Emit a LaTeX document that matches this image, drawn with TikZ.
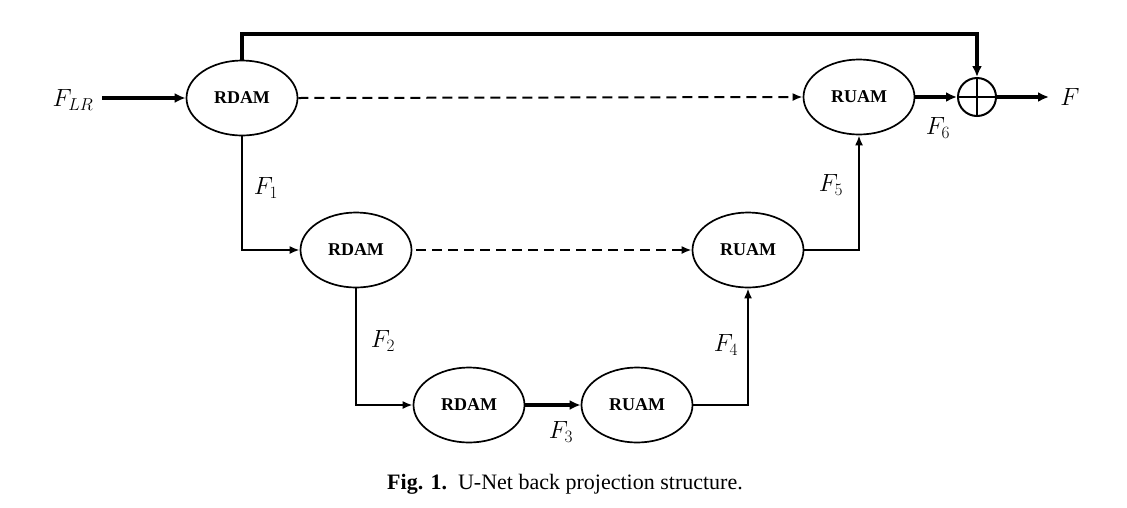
\documentclass[tikz,border=0pt]{standalone}
\usepackage{fontspec}
\setmainfont{Liberation Serif}
\usetikzlibrary{arrows.meta,shapes.geometric}
\begin{document}
\begin{tikzpicture}[x=1pt,y=-1pt,
  blk/.style={draw,line width=1.7pt,ellipse,minimum width=111pt,minimum height=75pt,inner sep=0pt,font=\fontsize{18}{18}\selectfont\bfseries},
  thin/.style={line width=2pt,-{Latex[length=10pt,width=8pt]}},
  thick/.style={line width=3.4pt,-{Latex[length=11pt,width=10pt]}},
  dsh/.style={line width=2pt,dash pattern=on 10pt off 6pt,-{Latex[length=10pt,width=8pt]}},
  lbl/.style={font=\fontsize{25}{25}\selectfont}]
\useasboundingbox (0,0) rectangle (1127,507);
\node[blk] (d1) at (242,98) {RDAM};
\node[blk] (u1) at (859,97) {RUAM};
\node[blk] (d2) at (356,250) {RDAM};
\node[blk] (u2) at (748,250) {RUAM};
\node[blk] (d3) at (469,405) {RDAM};
\node[blk] (u3) at (637,405) {RUAM};
\node[draw,circle,line width=2pt,minimum size=38pt,inner sep=0pt] (s) at (977,97) {};
\draw[line width=2pt] (s.north) -- (s.south) (s.west) -- (s.east);
\coordinate (in) at (102,98);
\coordinate (out) at (1049,97);
\node[lbl] (flr) at (73,100) {$F_{LR}$};
\node[lbl] (f) at (1070,97) {$F$};
\draw[thick] (in) -- (d1.west);
\draw[thick] (d1.north) -- (242,34) -| (s.north);
\draw[thick] (u1.east) -- (s.west);
\draw[thick] (s.east) -- (out);
\draw[dsh] (d1.east) -- (u1.west);
\draw[dsh] (d2.east) ++(4,0) -- (u2.west);
\draw[thin] (d1.south) |- (d2.west);
\draw[thin] (d2.south) |- (d3.west);
\draw[thick] (d3.east) -- (u3.west);
\draw[thin] (u3.east) -| (u2.south);
\draw[thin] (u2.east) -| (u1.south);
\node[lbl] (f1) at (266,188) {$F_1$};
\node[lbl] (f2) at (383,341) {$F_2$};
\node[lbl] (f3) at (561,432) {$F_3$};
\node[lbl] (f4) at (726,345) {$F_4$};
\node[lbl] (f5) at (831,185) {$F_5$};
\node[lbl] (f6) at (938,128) {$F_6$};
\node[font=\fontsize{22}{22}\selectfont] (cap) at (565,484) {\textbf{Fig. 1.}\ \ U-Net back projection structure.};
\end{tikzpicture}
\end{document}
